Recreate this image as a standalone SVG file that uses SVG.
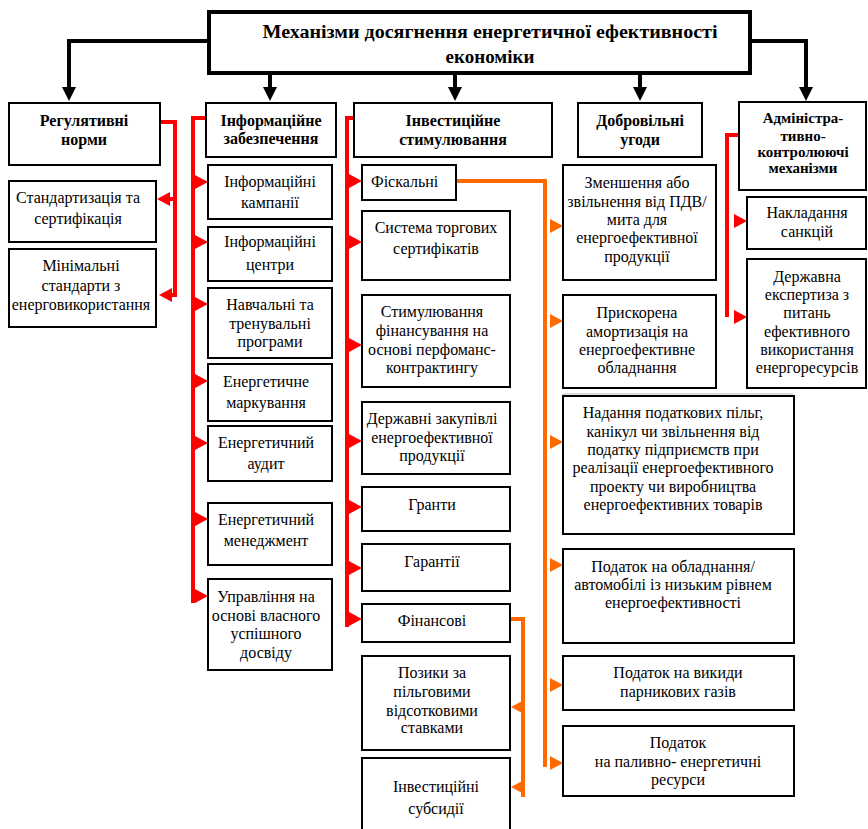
<svg xmlns="http://www.w3.org/2000/svg" width="868" height="829" viewBox="0 0 868 829">
<style>
.b{fill:#fff;stroke:#000;stroke-width:2}
.t{font-family:"Liberation Serif","Times New Roman",serif;font-size:16px;fill:#000;text-anchor:middle}
.h{font-family:"Liberation Serif","Times New Roman",serif;font-size:16px;font-weight:bold;fill:#000;text-anchor:middle}
.tt{font-size:19px}
.s{font-size:15px}
.st{text-anchor:start}
.k{fill:none;stroke:#000;stroke-width:4}
.r{fill:none;stroke:#ff0000;stroke-width:4}
.o{fill:none;stroke:#ff6a00;stroke-width:4}
</style>
<defs>
<polygon id="ad" points="-7,-14 7,-14 0,0" fill="#000"/>
<polygon id="rr" points="-13,-7 -13,7 0,0" fill="#ff0000"/>
<polygon id="rl" points="13,-7 13,7 0,0" fill="#ff0000"/>
<polygon id="or" points="-13,-7 -13,7 0,0" fill="#ff6a00"/>
<polygon id="ol" points="13,-7 13,7 0,0" fill="#ff6a00"/>
</defs>
<rect width="868" height="829" fill="#fff"/>

<g id="connectors">
<path class="k" d="M207,41 H69 V88 M752,41 H806 V88 M270,74 V88 M455,74 V88 M640,74 V88"/>
<use href="#ad" x="69" y="101"/><use href="#ad" x="270" y="101"/><use href="#ad" x="455" y="101"/><use href="#ad" x="640" y="101"/><use href="#ad" x="806" y="101"/>
<path class="r" d="M160,122 H175 V297 M175,199 H168 M175,295 H170"/>
<use href="#rl" x="157" y="199"/><use href="#rl" x="159" y="295"/>
<path class="r" d="M206,118 H193 V603"/>
<use href="#rr" x="208" y="182"/><use href="#rr" x="208" y="242"/><use href="#rr" x="208" y="304"/><use href="#rr" x="208" y="381"/><use href="#rr" x="208" y="443"/><use href="#rr" x="208" y="519"/><use href="#rr" x="208" y="596"/>
<path class="r" d="M354,118 H347 V627"/>
<use href="#rr" x="362" y="181"/><use href="#rr" x="362" y="242"/><use href="#rr" x="362" y="345"/><use href="#rr" x="362" y="441"/><use href="#rr" x="362" y="507"/><use href="#rr" x="362" y="568"/><use href="#rr" x="362" y="619"/>
<path class="o" d="M456,181 H545 V767"/>
<use href="#or" x="563" y="226"/><use href="#or" x="563" y="321"/><use href="#or" x="563" y="442"/><use href="#or" x="563" y="565"/><use href="#or" x="563" y="685"/><use href="#or" x="563" y="763"/>
<path class="o" d="M510,619 H523 V797"/>
<use href="#ol" x="511" y="707"/><use href="#ol" x="511" y="787"/>
<path class="r" d="M739,135 H727 V317"/>
<use href="#rr" x="747" y="221"/><use href="#rr" x="747" y="317"/>
<line x1="562" y1="394" x2="793" y2="394" stroke="#bbb" stroke-width="1"/>
</g>

<g id="title">
<rect x="209" y="12" width="541" height="61" fill="#fff" stroke="#000" stroke-width="4"/>
<text class="h tt" x="490" y="38" textLength="455" lengthAdjust="spacingAndGlyphs">Механізми досягнення енергетичної ефективності</text>
<text class="h tt" x="490" y="63">економіки</text>
</g>

<g id="reg"><rect class="b" x="9" y="103" width="151" height="62"/>
<text class="h" x="84" y="126">Регулятивні</text><text class="h" x="84" y="145">норми</text></g>
<g id="standart"><rect class="b" x="9" y="181" width="147" height="61"/>
<text class="t" x="78" y="203">Стандартизація та</text><text class="t" x="78" y="224">сертифікація</text></g>
<g id="minimal"><rect class="b" x="9" y="249" width="147" height="78"/>
<text class="t" x="81" y="271">Мінімальні</text><text class="t" x="81" y="291">стандарти з</text><text class="t" x="81" y="310">енерговикористання</text></g>

<g id="info"><rect class="b" x="206" y="103" width="130" height="54"/>
<text class="h" x="271" y="126">Інформаційне</text><text class="h" x="271" y="144">забезпечення</text></g>
<g id="info1"><rect class="b" x="208" y="165" width="124" height="54"/>
<text class="t" x="270" y="187">Інформаційні</text><text class="t" x="270" y="208">кампанії</text></g>
<g id="info2"><rect class="b" x="208" y="227" width="124" height="54"/>
<text class="t" x="270" y="247">Інформаційні</text><text class="t" x="270" y="270">центри</text></g>
<g id="info3"><rect class="b" x="208" y="288" width="124" height="70"/>
<text class="t" x="270" y="310">Навчальні та</text><text class="t" x="270" y="329">тренувальні</text><text class="t" x="270" y="347">програми</text></g>
<g id="info4"><rect class="b" x="208" y="364" width="124" height="57"/>
<text class="t" x="266" y="387">Енергетичне</text><text class="t" x="266" y="408">маркування</text></g>
<g id="info5"><rect class="b" x="208" y="426" width="124" height="55"/>
<text class="t" x="266" y="448">Енергетичний</text><text class="t" x="266" y="469">аудит</text></g>
<g id="info6"><rect class="b" x="208" y="503" width="124" height="62"/>
<text class="t" x="266" y="525">Енергетичний</text><text class="t" x="266" y="546">менеджмент</text></g>
<g id="info7"><rect class="b" x="208" y="579" width="124" height="91"/>
<text class="t" x="266" y="602">Управління на</text><text class="t" x="266" y="621">основі власного</text><text class="t" x="266" y="639">успішного</text><text class="t" x="266" y="658">досвіду</text></g>

<g id="invest"><rect class="b" x="354" y="103" width="198" height="54"/>
<text class="h" x="453" y="126">Інвестиційне</text><text class="h" x="453" y="145">стимулювання</text></g>
<g id="fiscal"><rect class="b" x="362" y="165" width="94" height="35"/>
<text class="t st" x="371" y="187">Фіскальні</text></g>
<g id="trade"><rect class="b" x="362" y="211" width="148" height="69"/>
<text class="t" x="436" y="233">Система торгових</text><text class="t" x="436" y="254">сертифікатів</text></g>
<g id="perf"><rect class="b" x="362" y="295" width="148" height="92"/>
<text class="t" x="432" y="317">Стимулювання</text><text class="t" x="432" y="336">фінансування на</text><text class="t" x="432" y="355">основі перфоманс-</text><text class="t" x="432" y="373">контрактингу</text></g>
<g id="procure"><rect class="b" x="362" y="402" width="148" height="72"/>
<text class="t" x="432" y="424">Державні закупівлі</text><text class="t" x="432" y="443">енергоефективної</text><text class="t" x="432" y="461">продукції</text></g>
<g id="grants"><rect class="b" x="362" y="487" width="148" height="44"/>
<text class="t" x="432" y="510">Гранти</text></g>
<g id="guar"><rect class="b" x="362" y="544" width="148" height="47"/>
<text class="t" x="432" y="567">Гарантії</text></g>
<g id="fin"><rect class="b" x="362" y="604" width="148" height="38"/>
<text class="t" x="432" y="626">Фінансові</text></g>
<g id="loans"><rect class="b" x="362" y="656" width="148" height="94"/>
<text class="t" x="432" y="678">Позики за</text><text class="t" x="432" y="697">пільговими</text><text class="t" x="432" y="716">відсотковими</text><text class="t" x="432" y="733">ставками</text></g>
<g id="subs"><rect class="b" x="362" y="758" width="148" height="72"/>
<text class="t" x="436" y="792">Інвестиційні</text><text class="t" x="436" y="814">субсидії</text></g>

<g id="volunt"><rect class="b" x="578" y="103" width="124" height="54"/>
<text class="h" x="640" y="126">Добровільні</text><text class="h" x="640" y="145">угоди</text></g>
<g id="vat"><rect class="b" x="563" y="165" width="153" height="115"/>
<text class="t" x="637" y="188">Зменшення або</text><text class="t" x="637" y="207">звільнення від ПДВ/</text><text class="t" x="637" y="225">мита для</text><text class="t" x="637" y="243">енергоефективної</text><text class="t" x="637" y="262">продукції</text></g>
<g id="amort"><rect class="b" x="563" y="295" width="153" height="93"/>
<text class="t" x="637" y="318">Прискорена</text><text class="t" x="637" y="337">амортизація на</text><text class="t" x="637" y="355">енергоефективне</text><text class="t" x="637" y="373">обладнання</text></g>
<g id="taxrel"><rect class="b" x="563" y="396" width="231" height="138"/>
<text class="t" x="673" y="418">Надання податкових пільг,</text><text class="t" x="673" y="437">канікул чи звільнення від</text><text class="t" x="673" y="455">податку підприємств при</text><text class="t" x="673" y="473">реалізації енергоефективного</text><text class="t" x="673" y="492">проекту чи виробництва</text><text class="t" x="673" y="510">енергоефективних товарів</text></g>
<g id="taxequip"><rect class="b" x="563" y="549" width="231" height="94"/>
<text class="t" x="673" y="572">Податок на обладнання/</text><text class="t" x="673" y="590">автомобілі із низьким рівнем</text><text class="t" x="673" y="608">енергоефективності</text></g>
<g id="taxghg"><rect class="b" x="563" y="656" width="231" height="54"/>
<text class="t" x="678" y="678">Податок на викиди</text><text class="t" x="678" y="697">парникових газів</text></g>
<g id="taxfuel"><rect class="b" x="563" y="726" width="231" height="70"/>
<text class="t" x="678" y="748">Податок</text><text class="t" x="678" y="767">на паливно- енергетичні</text><text class="t" x="678" y="785">ресурси</text></g>

<g id="admin"><rect class="b" x="739" y="102" width="127" height="88"/>
<text class="h s" x="803" y="123">Адміністра-</text><text class="h s" x="803" y="141">тивно-</text><text class="h s" x="803" y="157">контролюючі</text><text class="h s" x="803" y="173">механізми</text></g>
<g id="sanct"><rect class="b" x="747" y="197" width="119" height="52"/>
<text class="t" x="807" y="218">Накладання</text><text class="t" x="807" y="237">санкцій</text></g>
<g id="expert"><rect class="b" x="747" y="259" width="119" height="129"/>
<text class="t" x="807" y="282">Державна</text><text class="t" x="807" y="300">експертиза з</text><text class="t" x="807" y="318">питань</text><text class="t" x="807" y="337">ефективного</text><text class="t" x="807" y="355">використання</text><text class="t" x="807" y="373">енергоресурсів</text></g>
</svg>
